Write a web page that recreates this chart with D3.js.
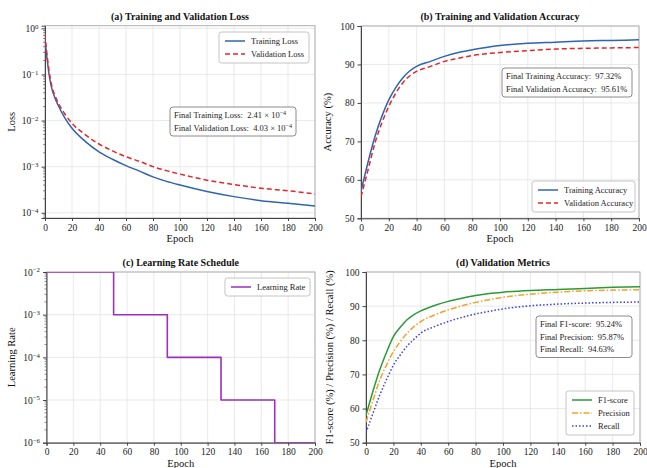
<!DOCTYPE html>
<html>
<head>
<meta charset="utf-8">
<script src="https://cdn.jsdelivr.net/npm/d3@7/dist/d3.min.js"></script>
<style>
  html, body { margin: 0; padding: 0; background: #fff; }
  svg { display: block; font-family: "Liberation Serif", "DejaVu Serif", serif; }
</style>
</head>
<body>
<svg id="chart" width="647" height="468"></svg>
<script>
// ---- data ----
const lossEpochs = [0, 1, 2, 3, 5, 7, 10, 15, 20, 30, 40, 50, 60, 70, 80, 90, 100, 120, 140, 160, 180, 200];
const trainLoss = [0.6, 0.3, 0.17, 0.1, 0.05, 0.033, 0.0207, 0.011, 0.0068, 0.0035, 0.0021, 0.00145, 0.00105, 0.0008, 0.0006, 0.00048, 0.0004, 0.00029, 0.000224, 0.000183, 0.00016, 0.00014];
const valLoss = [0.75, 0.36, 0.2, 0.12, 0.057, 0.037, 0.0236, 0.0135, 0.0087, 0.0049, 0.0031, 0.0022, 0.00164, 0.0013, 0.001, 0.00082, 0.00069, 0.00051, 0.00041, 0.00034, 0.0003, 0.000256];

const metricEpochs = [0, 5, 10, 15, 20, 25, 30, 35, 40, 50, 60, 70, 80, 90, 100, 120, 140, 160, 180, 200];
const trainAcc = [57, 64.5, 71.2, 76.5, 80.8, 84, 86.5, 88.3, 89.5, 90.8, 92.1, 93.1, 93.8, 94.4, 94.9, 95.5, 95.8, 96.1, 96.25, 96.4];
const valAcc = [55.6, 62.5, 69.5, 74.8, 79.1, 82.5, 85.2, 87, 88.2, 89.5, 90.8, 91.6, 92.3, 92.8, 93.1, 93.6, 94.0, 94.2, 94.3, 94.4];
const f1Score = [58, 65, 71.3, 76.5, 81.1, 83.8, 86.0, 87.5, 88.6, 90.2, 91.4, 92.3, 93.1, 93.7, 94.1, 94.6, 94.9, 95.2, 95.5, 95.7];
const precision = [56, 62.3, 68.3, 72.8, 76.7, 79.6, 82.1, 84, 85.5, 87.4, 88.9, 90.1, 91.1, 91.9, 92.6, 93.5, 94.1, 94.5, 94.7, 94.8];
const recall = [53, 58.5, 63.9, 68.5, 72.7, 75.7, 78.3, 80.3, 82.1, 84, 85.5, 86.7, 87.7, 88.5, 89.2, 90.1, 90.6, 90.9, 91.1, 91.2];

const lrEpochs = [0, 50, 90, 130, 170, 200];
const learningRate = [1e-2, 1e-3, 1e-4, 1e-5, 1e-6, 1e-6];

const epochTicks = [0, 20, 40, 60, 80, 100, 120, 140, 160, 180, 200];
const lossTicks = [1, 1e-1, 1e-2, 1e-3, 1e-4];
const lrTicks = [1e-2, 1e-3, 1e-4, 1e-5, 1e-6];
const pctTicks = [50, 60, 70, 80, 90, 100];

// summary text boxes: [label, mantissa/value, exponent]
const lossSummary = [["Final Training Loss:", "2.41 × 10", "−4"], ["Final Validation Loss:", "4.03 × 10", "−4"]];
const accSummary = [["Final Training Accuracy:", "97.32%"], ["Final Validation Accuracy:", "95.61%"]];
const metricSummary = [["Final F1-score:", "95.24%"], ["Final Precision:", "95.87%"], ["Final Recall:", "94.63%"]];

// ---- styling ----
const C = {
  blue: "#2f65b0", red: "#e3262b", purple: "#9b2fc0",
  green: "#2b9a38", orange: "#f2a22a", dotBlue: "#3b3de8",
  grid: "#e3e3e3", spineDark: "#444", spineLight: "#a8a8a8"
};
const FS = { title: 10, tick: 9.5, label: 10.5, legend: 8.5 };

const svg = d3.select("#chart");

function supText(sel, base, exp) {
  sel.text(null);
  sel.append("tspan").text(base);
  sel.append("tspan").attr("dy", "-0.45em").attr("font-size", "0.72em").text(exp);
}
const expOf = v => { const e = Math.round(Math.log10(v)); return e < 0 ? "−" + (-e) : String(e); };

function panel(opt) {
  const { box, yScaleType, yDomain, yTicks, title, ylabel } = opt;
  const g = svg.append("g");
  const x = d3.scaleLinear().domain([0, 200]).range([box.l, box.r]);
  const y = (yScaleType === "log" ? d3.scaleLog() : d3.scaleLinear()).domain(yDomain).range([box.b, box.t]);

  // grid
  g.append("g").selectAll("line").data(epochTicks).join("line")
    .attr("x1", d => x(d)).attr("x2", d => x(d)).attr("y1", box.t).attr("y2", box.b)
    .attr("stroke", C.grid).attr("stroke-width", 0.8);
  g.append("g").selectAll("line").data(yTicks).join("line")
    .attr("x1", box.l).attr("x2", box.r).attr("y1", d => y(d)).attr("y2", d => y(d))
    .attr("stroke", C.grid).attr("stroke-width", 0.8);

  // frame
  g.append("rect").attr("x", box.l).attr("y", box.t).attr("width", box.r - box.l).attr("height", box.b - box.t)
    .attr("fill", "none").attr("stroke", C.spineLight).attr("stroke-width", 0.9);

  // axes
  const xAxis = d3.axisBottom(x).tickValues(epochTicks).tickSize(3).tickPadding(3).tickFormat(d3.format("d"));
  const gx = g.append("g").attr("transform", `translate(0,${box.b})`).call(xAxis);
  gx.select(".domain").attr("stroke", C.spineDark).attr("stroke-width", 1);
  gx.selectAll(".tick line").attr("stroke", C.spineDark);
  gx.selectAll("text").attr("font-size", FS.tick).attr("font-family", "Liberation Serif").attr("fill", "#222");

  const yAxis = (yScaleType === "log" ? d3.axisLeft(y).tickValues(yTicks).tickFormat(() => "") : d3.axisLeft(y).tickValues(yTicks).tickFormat(d3.format("d")))
    .tickSize(3.5).tickPadding(3);
  const gy = g.append("g").attr("transform", `translate(${box.l},0)`).call(yAxis);
  gy.select(".domain").attr("stroke", C.spineDark).attr("stroke-width", 1);
  gy.selectAll(".tick line").attr("stroke", C.spineDark);
  gy.selectAll("text").attr("font-size", FS.tick).attr("font-family", "Liberation Serif").attr("fill", "#222");
  if (yScaleType === "log") {
    gy.selectAll(".tick text").each(function (d) { supText(d3.select(this), "10", expOf(d)); });
    // minor ticks
    const lo = Math.floor(Math.log10(yDomain[0])), hi = Math.ceil(Math.log10(yDomain[1]));
    const minors = [];
    for (let e = lo; e < hi; e++) for (let m = 2; m <= 9; m++) {
      const v = m * Math.pow(10, e);
      if (v >= yDomain[0] && v <= yDomain[1]) minors.push(v);
    }
    g.append("g").selectAll("line").data(minors).join("line")
      .attr("x1", box.l - 2).attr("x2", box.l).attr("y1", d => y(d)).attr("y2", d => y(d))
      .attr("stroke", C.spineDark).attr("stroke-width", 0.6);
  }

  // title and labels
  g.append("text").attr("x", (box.l + box.r) / 2).attr("y", box.t - 6).attr("text-anchor", "middle")
    .attr("font-size", FS.title).attr("font-weight", "bold").attr("fill", "#111").text(title);
  g.append("text").attr("x", (box.l + box.r) / 2).attr("y", box.b + 24).attr("text-anchor", "middle")
    .attr("font-size", FS.label).attr("fill", "#111").text("Epoch");
  g.append("text").attr("transform", `translate(${opt.ylabelX},${(box.t + box.b) / 2}) rotate(-90)`)
    .attr("text-anchor", "middle").attr("font-size", FS.label).attr("fill", "#111").text(ylabel);

  const clip = "clip" + Math.round(box.l) + Math.round(box.t);
  svg.append("clipPath").attr("id", clip).append("rect")
    .attr("x", box.l).attr("y", box.t).attr("width", box.r - box.l).attr("height", box.b - box.t);
  const plot = g.append("g").attr("clip-path", `url(#${clip})`);
  return { g, x, y, plot };
}

function drawLine(p, xs, ys, style, curve) {
  const line = d3.line().x((d, i) => p.x(xs[i])).y(d => p.y(d)).curve(curve || d3.curveMonotoneX);
  p.plot.append("path").datum(ys).attr("d", line).attr("fill", "none")
    .attr("stroke", style.color).attr("stroke-width", style.width || 1.5)
    .attr("stroke-dasharray", style.dash || null).attr("stroke-linejoin", "round");
}

function legend(p, x0, y0, w, items) {
  const rowH = 13;
  const h = items.length * rowH + 5;
  p.g.append("rect").attr("x", x0).attr("y", y0).attr("width", w).attr("height", h).attr("rx", 2.5)
    .attr("fill", "#fff").attr("fill-opacity", 0.9).attr("stroke", "#b5b5b5").attr("stroke-width", 0.8);
  items.forEach((it, i) => {
    const yy = y0 + 9 + i * rowH;
    p.g.append("line").attr("x1", x0 + 6).attr("x2", x0 + 26).attr("y1", yy).attr("y2", yy)
      .attr("stroke", it.color).attr("stroke-width", 1.5).attr("stroke-dasharray", it.dash || null);
    p.g.append("text").attr("x", x0 + 32).attr("y", yy + 3).attr("font-size", FS.legend).attr("fill", "#222").text(it.label);
  });
}

function summaryBox(p, x0, y0, w, rows) {
  const rowH = 12.5;
  const h = rows.length * rowH + 4;
  p.g.append("rect").attr("x", x0).attr("y", y0).attr("width", w).attr("height", h).attr("rx", 3)
    .attr("fill", "#fff").attr("fill-opacity", 0.9).attr("stroke", "#6f6f6f").attr("stroke-width", 0.8);
  rows.forEach((r, i) => {
    const t = p.g.append("text").attr("x", x0 + 4).attr("y", y0 + 11 + i * rowH)
      .attr("font-size", FS.legend).attr("fill", "#222").attr("xml:space", "preserve");
    t.append("tspan").text(r[0] + "  " + r[1]);
    if (r[2]) t.append("tspan").attr("dy", "-0.45em").attr("font-size", "0.72em").text(r[2]);
  });
}

// (a) loss
const pa = panel({ box: { l: 45, r: 315, t: 25.7, b: 218 }, yScaleType: "log", yDomain: [7.7e-5, 1.14],
  yTicks: lossTicks, title: "(a) Training and Validation Loss", ylabel: "Loss", ylabelX: 15 });
drawLine(pa, lossEpochs, trainLoss, { color: C.blue });
drawLine(pa, lossEpochs, valLoss, { color: C.red, dash: "5,3" });
legend(pa, 219, 32, 90, [{ label: "Training Loss", color: C.blue }, { label: "Validation Loss", color: C.red, dash: "5,3" }]);
summaryBox(pa, 170, 107, 126, lossSummary);

// (b) accuracy
const pb = panel({ box: { l: 361, r: 639, t: 26, b: 218.3 }, yScaleType: "linear", yDomain: [50, 100],
  yTicks: pctTicks, title: "(b) Training and Validation Accuracy", ylabel: "Accuracy (%)", ylabelX: 331 });
drawLine(pb, metricEpochs, trainAcc, { color: C.blue });
drawLine(pb, metricEpochs, valAcc, { color: C.red, dash: "5,3" });
summaryBox(pb, 502, 68, 130, accSummary);
legend(pb, 532, 181, 103, [{ label: "Training Accuracy", color: C.blue }, { label: "Validation Accuracy", color: C.red, dash: "5,3" }]);

// (c) learning rate
const pc = panel({ box: { l: 46.5, r: 315, t: 272, b: 442.7 }, yScaleType: "log", yDomain: [1e-6, 1e-2],
  yTicks: lrTicks, title: "(c) Learning Rate Schedule", ylabel: "Learning Rate", ylabelX: 15 });
drawLine(pc, lrEpochs, learningRate, { color: C.purple, width: 1.6 }, d3.curveStepAfter);
legend(pc, 225, 278, 85, [{ label: "Learning Rate", color: C.purple }]);

// (d) validation metrics
const pd = panel({ box: { l: 366, r: 640, t: 272, b: 442.7 }, yScaleType: "linear", yDomain: [50, 100],
  yTicks: pctTicks, title: "(d) Validation Metrics", ylabel: "F1-score (%) / Precision (%) / Recall (%)", ylabelX: 333 });
drawLine(pd, metricEpochs, f1Score, { color: C.green });
drawLine(pd, metricEpochs, precision, { color: C.orange, dash: "6,2,1.5,2" });
drawLine(pd, metricEpochs, recall, { color: C.dotBlue, dash: "1.5,2" });
summaryBox(pd, 536, 316, 96, metricSummary);
legend(pd, 566, 391, 68, [{ label: "F1-score", color: C.green }, { label: "Precision", color: C.orange, dash: "6,2,1.5,2" },
  { label: "Recall", color: C.dotBlue, dash: "1.5,2" }]);
</script>
</body>
</html>
